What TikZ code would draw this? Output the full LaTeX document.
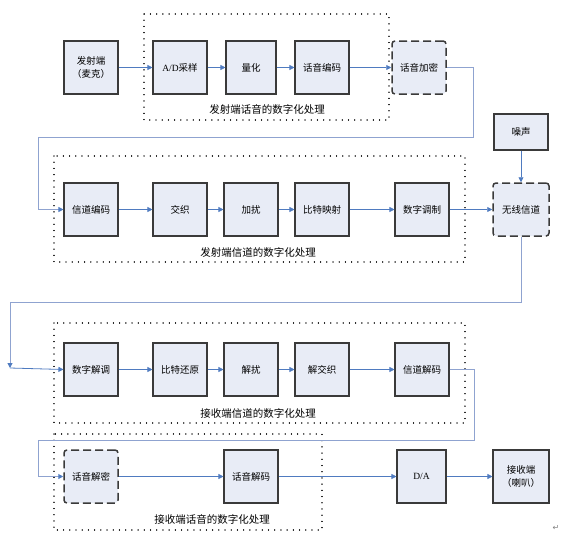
\documentclass[tikz,border=0pt]{standalone}
\usepackage{fontspec}
\setmainfont{Liberation Serif}
\newfontfamily\cjk{Noto Sans CJK SC}
\newfontfamily\symb{DejaVu Sans}
\usepackage{tikz}
\usetikzlibrary{arrows.meta}
\definecolor{boxfill}{HTML}{E8ECF6}
\definecolor{boxline}{HTML}{3A3A3A}
\definecolor{flowblue}{HTML}{4F7BC0}
\definecolor{loopblue}{HTML}{8FA3D0}
\begin{document}
\begin{tikzpicture}[x=1pt,y=-1pt]
	\tikzstyle{every node}+=[inner sep=0pt]
	\tikzstyle{block}=[draw=boxline, line width=1.1pt, fill=boxfill, minimum width=54pt, minimum height=53pt, align=center, font=\cjk\fontsize{9.5}{13}\selectfont]
	\tikzstyle{dblock}=[block, rounded corners=3pt, line width=1.5pt, dash pattern=on 8pt off 4pt]
	\tikzstyle{group}=[line width=1.3pt, dash pattern=on 0.01pt off 6.2pt, line cap=round]
	\tikzstyle{grouplabel}=[font=\cjk\fontsize{10.5}{12}\selectfont]
	\tikzstyle{flow}=[draw=flowblue, line width=0.8pt, -{Triangle[length=5pt,width=5pt]}]
	\tikzstyle{loop}=[draw=loopblue, line width=1pt, -{Triangle[length=5pt,width=5pt,color=flowblue]}]
	\useasboundingbox (0,0) rectangle (575,538);
	% dotted groups
	\draw [group] (144,14) rectangle (389,120);
	\draw [group] (54,156) rectangle (465,262);
	\draw [group] (54,323) rectangle (465,423);
	\draw [group] (54,434) rectangle (322,530);
	\node [grouplabel] (g1) at (267,109) {发射端话音的数字化处理};
	\node [grouplabel] (g2) at (258,252) {发射端信道的数字化处理};
	\node [grouplabel] (g3) at (258,413) {接收端信道的数字化处理};
	\node [grouplabel] (g4) at (212,519) {接收端话音的数字化处理};
	% row 1
	\node [block] (mic) at (91,67.5) {发射端\\（麦克）};
	\node [block] (ad) at (180,67.5) {{\rmfamily A/D}采样};
	\node [block, minimum width=50pt] (quant) at (251,67.5) {量化};
	\node [block] (senc) at (322,67.5) {话音编码};
	\node [dblock] (scrypt) at (419,67.5) {话音加密};
	% row 2
	\node [block] (cenc) at (91,209.5) {信道编码};
	\node [block] (inter) at (180,209.5) {交织};
	\node [block] (scram) at (251,209.5) {加扰};
	\node [block] (bmap) at (322,209.5) {比特映射};
	\node [block] (mod) at (422,209.5) {数字调制};
	\node [block, minimum height=36pt] (noise) at (521,132) {噪声};
	\node [dblock, minimum width=56pt] (chan) at (521,209.5) {无线信道};
	% row 3
	\node [block] (demod) at (91,369.5) {数字解调};
	\node [block] (brec) at (180,369.5) {比特还原};
	\node [block] (descr) at (251,369.5) {解扰};
	\node [block] (deint) at (322,369.5) {解交织};
	\node [block] (cdec) at (422,369.5) {信道解码};
	% row 4
	\node [dblock] (sdecr) at (91,476.5) {话音解密};
	\node [block] (sdec) at (251,476.5) {话音解码};
	\node [block, minimum width=49pt] (da) at (421.5,476.5) {\rmfamily D/A};
	\node [block, minimum width=56pt] (spk) at (521,476.5) {接收端\\（喇叭）};
	% turning points
	\coordinate (t1) at (473,137);
	\coordinate (t2) at (38,137);
	\coordinate (t3) at (10,302);
	\coordinate (t4) at (10,368);
	\coordinate (t5) at (474,440);
	\coordinate (t6) at (38,440);
	% connectors
	\draw [flow] (mic) -- (ad);
	\draw [flow] (ad) -- (quant);
	\draw [flow] (quant) -- (senc);
	\draw [flow] (senc) -- (scrypt);
	\draw [loop] (scrypt.east) -| (t1) -- (t2) |- (cenc.west);
	\draw [flow] (cenc) -- (inter);
	\draw [flow] (inter) -- (scram);
	\draw [flow] (scram) -- (bmap);
	\draw [flow] (bmap) -- (mod);
	\draw [flow] (mod) -- (chan);
	\draw [flow] (noise) -- (chan);
	\draw [loop] (chan.south) |- (t3) -- (t4);
	\draw [flow] (t4) -- (demod.west);
	\draw [flow] (demod) -- (brec);
	\draw [flow] (brec) -- (descr);
	\draw [flow] (descr) -- (deint);
	\draw [flow] (deint) -- (cdec);
	\draw [loop] (cdec.east) -| (t5) -- (t6) |- (sdecr.west);
	\draw [flow] (sdecr) -- (sdec);
	\draw [flow] (sdec) -- (da);
	\draw [flow] (da) -- (spk);
	\node [font=\symb\fontsize{8}{8}\selectfont, text=gray] (ret) at (556,528) {↵};
\end{tikzpicture}
\end{document}
